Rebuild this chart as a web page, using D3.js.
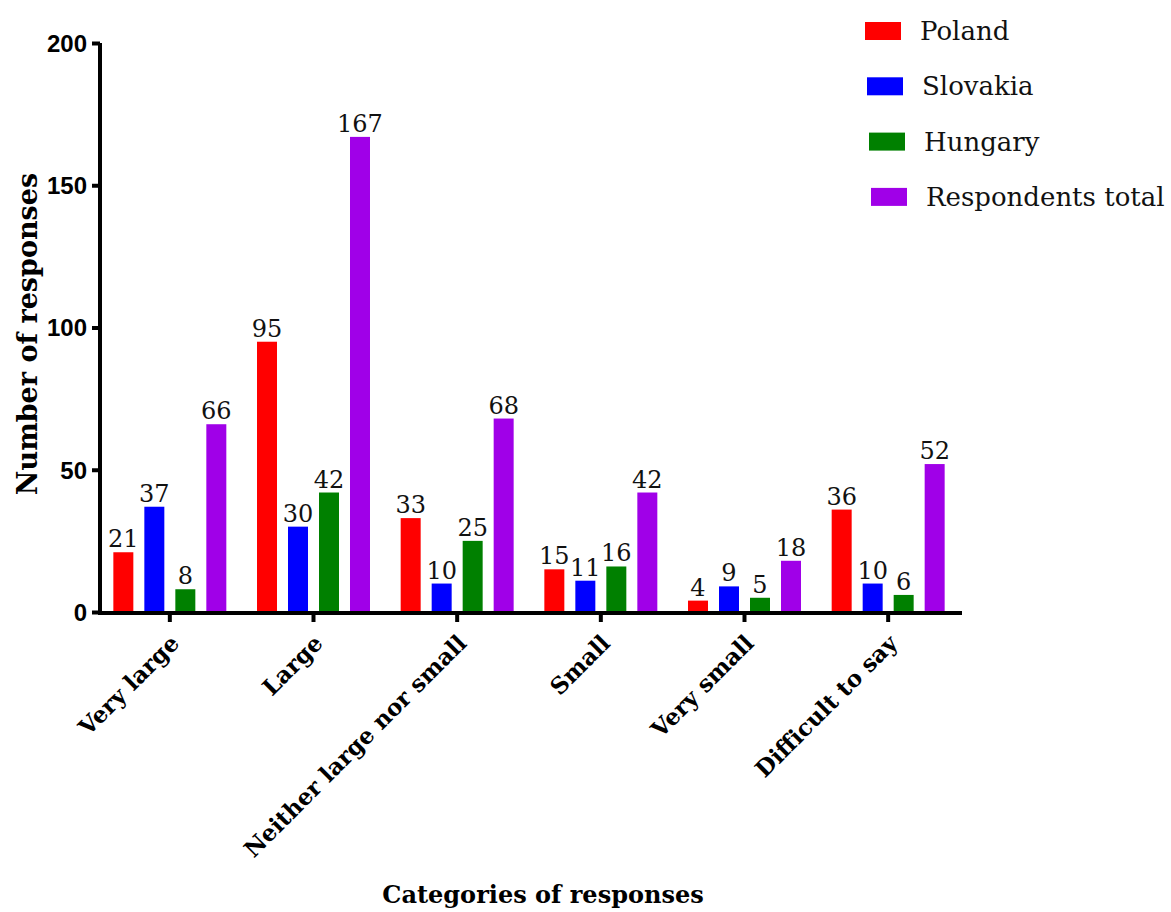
<!DOCTYPE html>
<html>
<head>
<meta charset="utf-8">
<script src="https://cdn.jsdelivr.net/npm/d3@7"></script>
<style>
  html, body { margin: 0; padding: 0; background: #fff; }
  svg { display: block; }
</style>
</head>
<body>
<svg id="chart" width="1171" height="912"></svg>
<script>
// Response categories along the x axis
const categories = ["Very large", "Large", "Neither large nor small", "Small", "Very small", "Difficult to say"];
// Series names (legend order) and their colours
const seriesNames = ["Poland", "Slovakia", "Hungary", "Respondents total"];
const seriesColors = ["#ff0000", "#0000ff", "#008000", "#a000e8"];
// Number of responses per category, one array per series
const poland = [21, 95, 33, 15, 4, 36];
const slovakia = [37, 30, 10, 11, 9, 10];
const hungary = [8, 42, 25, 16, 5, 6];
const respondentsTotal = [66, 167, 68, 42, 18, 52];
// Y axis ticks
const yTicks = [0, 50, 100, 150, 200];

const seriesValues = [poland, slovakia, hungary, respondentsTotal];

const svg = d3.select("#chart");
const serif = "'DejaVu Serif', 'Liberation Serif', serif";
const sans = "'Liberation Sans', Arial, sans-serif";

const x0 = d3.scaleBand().domain(categories).range([98, 960]).padding(0);
const x1 = d3.scaleBand().domain(seriesNames)
  .range([0, x0.bandwidth()])
  .paddingInner(0.355)
  .paddingOuter(0.495);
const y = d3.scaleLinear().domain([0, 200]).range([612, 43]);

// Bars with value labels
const groups = svg.append("g").selectAll("g")
  .data(categories)
  .join("g")
  .attr("transform", d => `translate(${x0(d)},0)`);

groups.each(function(cat, ci) {
  const g = d3.select(this);
  seriesNames.forEach((s, si) => {
    const v = seriesValues[si][ci];
    g.append("rect")
      .attr("x", x1(s))
      .attr("y", y(v))
      .attr("width", x1.bandwidth())
      .attr("height", y(0) - y(v))
      .attr("fill", seriesColors[si]);
    g.append("text")
      .attr("x", x1(s) + x1.bandwidth() / 2)
      .attr("y", y(v) - 5)
      .attr("text-anchor", "middle")
      .attr("font-family", serif)
      .attr("font-size", 24)
      .attr("fill", "#111")
      .text(v);
  });
});

// Y axis
const yAxis = svg.append("g")
  .attr("transform", "translate(100,0)")
  .call(d3.axisLeft(y).tickValues(yTicks).tickSize(8).tickPadding(5));
yAxis.select(".domain").attr("stroke", "#000").attr("stroke-width", 4)
  .attr("d", `M0,${y(200)}V${y(0) + 2}`);
yAxis.selectAll(".tick line").attr("stroke", "#000").attr("stroke-width", 4);
yAxis.selectAll(".tick text")
  .attr("font-family", sans)
  .attr("font-weight", "bold")
  .attr("font-size", 24)
  .attr("fill", "#000")
  .attr("dy", "0.35em");

// X axis with rotated category labels
const xAxis = svg.append("g")
  .attr("transform", `translate(0,${y(0) + 1})`)
  .call(d3.axisBottom(x0).tickSize(9).tickPadding(0));
xAxis.select(".domain").attr("stroke", "#000").attr("stroke-width", 4)
  .attr("d", "M98,0H962");
xAxis.selectAll(".tick line").attr("stroke", "#000").attr("stroke-width", 4);
xAxis.selectAll(".tick text")
  .attr("font-family", serif)
  .attr("font-weight", "bold")
  .attr("font-size", 23)
  .attr("fill", "#000")
  .attr("text-anchor", "end")
  .attr("dy", "0.35em")
  .attr("transform", "translate(5,26) rotate(-45)")
  .attr("y", 0)
  .attr("x", 0);

// Axis titles
svg.append("text")
  .attr("transform", "translate(37,334) rotate(-90)")
  .attr("text-anchor", "middle")
  .attr("font-family", serif)
  .attr("font-weight", "bold")
  .attr("font-size", 27)
  .attr("fill", "#000")
  .text("Number of responses");

svg.append("text")
  .attr("x", 543)
  .attr("y", 903)
  .attr("text-anchor", "middle")
  .attr("font-family", serif)
  .attr("font-weight", "bold")
  .attr("font-size", 24)
  .attr("fill", "#000")
  .text("Categories of responses");

// Legend
const legend = svg.append("g").selectAll("g")
  .data(seriesNames)
  .join("g")
  .attr("transform", (d, i) => `translate(${865 + i * 2},${31 + i * 55.3})`);
legend.append("rect")
  .attr("x", 0).attr("y", -9)
  .attr("width", 36).attr("height", 18)
  .attr("fill", (d, i) => seriesColors[i]);
legend.append("text")
  .attr("x", 55).attr("y", 0)
  .attr("dy", "0.35em")
  .attr("font-family", serif)
  .attr("font-size", 26)
  .attr("fill", "#111")
  .text(d => d);
</script>
</body>
</html>
